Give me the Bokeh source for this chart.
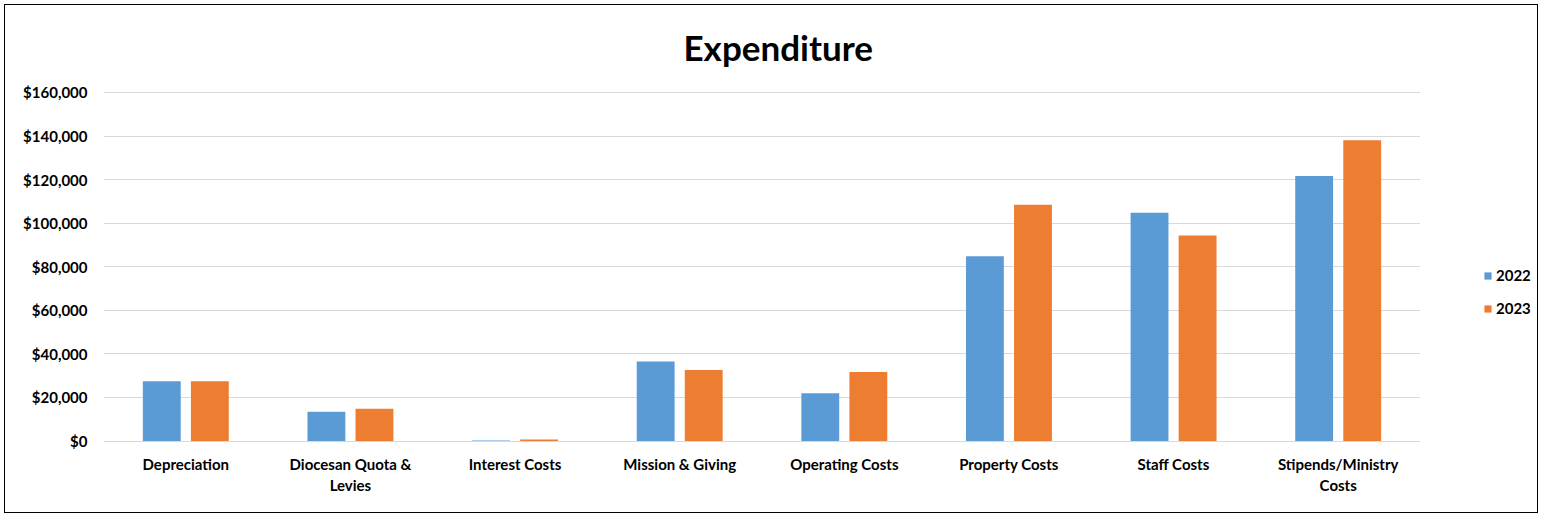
from bokeh.plotting import figure
from bokeh.layouts import row
from bokeh.models import FactorRange, NumeralTickFormatter, Legend, LegendItem, ColumnDataSource, Range1d
from bokeh.transform import dodge
from bokeh.embed import file_html
from bokeh.resources import INLINE

categories = ["Depreciation", "Diocesan Quota & Levies", "Interest Costs", "Mission & Giving",
              "Operating Costs", "Property Costs", "Staff Costs", "Stipends/Ministry Costs"]
label_text = ["Depreciation", "Diocesan Quota &\nLevies", "Interest Costs", "Mission & Giving",
              "Operating Costs", "Property Costs", "Staff Costs", "Stipends/Ministry\nCosts"]
values_2022 = [27400, 13400, 200, 36500, 21900, 84800, 104800, 121700]
values_2023 = [27400, 14800, 700, 32600, 31700, 108500, 94300, 138100]
series = ["2022", "2023"]
y_ticks = [0, 20000, 40000, 60000, 80000, 100000, 120000, 140000, 160000]

FONT = "Lato"
BLUE = "#5B9BD5"
ORANGE = "#ED7D31"

src = ColumnDataSource(dict(cat=categories, v22=values_2022, v23=values_2023,
                            lab=label_text, zero=[0] * len(categories)))

# 351 px spans 0..160000; frame extends below zero to hold the category labels
PX = 160000 / 351.0
p = figure(x_range=FactorRange(*categories, range_padding=0),
           y_range=Range1d(-72 * PX, 160000 + 2 * PX),
           width=1415, height=508, output_backend="svg", toolbar_location=None,
           min_border_left=98, min_border_right=0, min_border_top=83, min_border_bottom=0,
           title="Expenditure")
p.title.align = "left"
p.title.offset = 580
p.title.vertical_align = "top"
p.title.text_font = FONT
p.title.text_font_size = "35px"
p.title.text_font_style = "bold"
p.title.text_color = "#000000"
p.title.standoff = 41

r1 = p.vbar(x=dodge("cat", -0.146, range=p.x_range), top="v22", width=0.23, source=src,
            fill_color=BLUE, line_color=None)
r2 = p.vbar(x=dodge("cat", 0.146, range=p.x_range), top="v23", width=0.23, source=src,
            fill_color=ORANGE, line_color=None)

p.text(x="cat", y="zero", text="lab", source=src, y_offset=14, text_align="center",
       text_baseline="top", text_font={"value": FONT}, text_font_size="15px",
       text_font_style="bold", text_color="#000000", text_line_height=1.15)

p.outline_line_color = None
p.xaxis.visible = False
p.xgrid.grid_line_color = None
p.ygrid.grid_line_color = "#D9D9D9"
p.ygrid.grid_line_width = 1
p.yaxis.ticker = y_ticks
p.yaxis.formatter = NumeralTickFormatter(format="$0,0")
p.yaxis.axis_line_color = None
p.yaxis.major_tick_line_color = None
p.yaxis.minor_tick_line_color = None
p.yaxis.major_label_standoff = 10
p.yaxis.major_label_text_font = FONT
p.yaxis.major_label_text_font_size = "15px"
p.yaxis.major_label_text_font_style = "bold"
p.yaxis.major_label_text_color = "#000000"

# legend lives in a narrow companion figure at the right of the chart
leg = figure(width=117, height=508, output_backend="svg", toolbar_location=None,
             x_axis_type=None, y_axis_type=None, x_range=Range1d(0, 1), y_range=Range1d(0, 1),
             min_border=0)
leg.outline_line_color = None
leg.xgrid.visible = False
leg.ygrid.visible = False
d1 = leg.vbar(x=[-10], top=[-10], width=0.1, fill_color=BLUE, line_color=None)
d2 = leg.vbar(x=[-10], top=[-10], width=0.1, fill_color=ORANGE, line_color=None)
legend = Legend(items=[LegendItem(label=series[0], renderers=[d1]),
                       LegendItem(label=series[1], renderers=[d2])],
                location=(63, 194), orientation="vertical",
                padding=0, margin=0, spacing=13, label_height=20, glyph_height=9, glyph_width=9,
                label_standoff=4, border_line_color=None, background_fill_alpha=0,
                label_text_font=FONT, label_text_font_size="15px", label_text_font_style="bold",
                label_text_color="#000000")
leg.add_layout(legend, "center")

layout = row(p, leg, spacing=0)
layout.styles = {"margin-left": "4px", "margin-top": "4px",
                 "border": "1px solid #000000", "width": "1534px", "height": "509px"}

open("out.html", "w").write(file_html(layout, INLINE))
